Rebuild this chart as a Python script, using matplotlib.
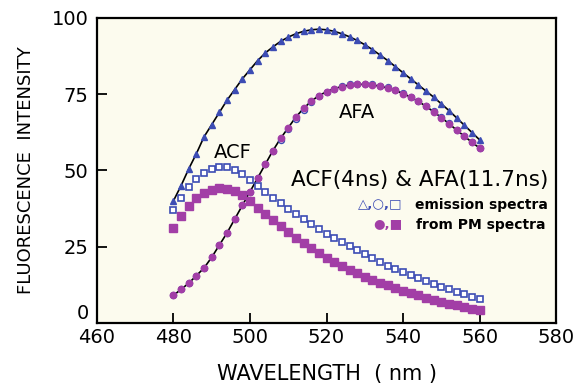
import numpy as np
import matplotlib
matplotlib.use("Agg")
import matplotlib.pyplot as plt

# wavelength grid of the measured points (nm)
wavelength = np.arange(480, 561, 2)

# AFA+ACF total emission (triangles)
total_emission = [
    40.0, 45.0, 50.5, 55.5, 61.0, 65.0, 69.0, 73.0, 76.5, 80.0,
    83.0, 86.0, 88.5, 90.5, 92.3, 93.7, 94.8, 95.6, 96.1, 96.3,
    96.1, 95.6, 94.8, 93.8, 92.6, 91.2, 89.6, 87.8, 86.0, 84.0,
    82.0, 80.0, 78.0, 76.0, 74.0, 71.8, 69.6, 67.2, 64.8, 62.4,
    60.0,
]
# AFA emission (open circles) and from PM spectra (filled circles)
afa_emission = [
    9.0, 11.0, 13.0, 15.5, 18.0, 21.5, 25.5, 29.5, 34.0, 38.5,
    43.0, 47.5, 52.0, 56.5, 60.0, 63.6, 67.0, 69.8, 72.3, 74.3,
    75.7, 76.8, 77.6, 78.2, 78.4, 78.4, 78.2, 77.8, 77.2, 76.4,
    75.4, 74.2, 72.8, 71.2, 69.4, 67.5, 65.5, 63.4, 61.4, 59.4,
    57.5,
]
afa_pm = [
    9.0, 11.0, 13.0, 15.5, 18.0, 21.5, 25.5, 29.5, 34.0, 38.5,
    43.0, 47.5, 52.0, 56.5, 60.5, 64.0, 67.5, 70.3, 72.7, 74.5,
    75.8, 76.8, 77.5, 78.0, 78.2, 78.2, 78.0, 77.6, 77.0, 76.2,
    75.2, 74.0, 72.6, 71.0, 69.2, 67.3, 65.3, 63.2, 61.2, 59.2,
    57.3,
]
# ACF emission (open squares) and from PM spectra (filled squares)
acf_emission = [
    37.0, 41.0, 44.5, 47.3, 49.3, 50.6, 51.2, 51.0, 50.2, 48.8,
    46.8, 44.9, 43.0, 41.1, 39.2, 37.4, 35.6, 33.9, 32.3, 30.7,
    29.2, 27.8, 26.4, 25.1, 23.8, 22.5, 21.2, 19.9, 18.8, 17.7,
    16.7, 15.7, 14.7, 13.7, 12.8, 11.9, 11.0, 10.2, 9.4, 8.6,
    7.8,
]
acf_pm = [
    31.0, 35.0, 38.3, 40.8, 42.6, 43.7, 44.2, 44.0, 43.2, 41.9,
    39.8, 37.8, 35.8, 33.8, 31.8, 29.8, 27.9, 26.1, 24.4, 22.8,
    21.3, 19.9, 18.6, 17.4, 16.2, 15.1, 14.1, 13.2, 12.3, 11.4,
    10.6, 9.8, 9.0, 8.3, 7.6, 6.9, 6.3, 5.7, 5.1, 4.6,
    4.1,
]

x_ticks = [460, 480, 500, 520, 540, 560, 580]
y_ticks = [0, 25, 50, 75, 100]

BLUE = "#3c4cb4"
PURPLE = "#a23ea6"
PAPER = "#fcfbee"

fig = plt.figure(figsize=(5.8, 3.89), dpi=100)
ax = fig.add_axes([0.167, 0.170, 0.792, 0.784])
ax.set_facecolor(PAPER)

# fitted curves through the triangles and circles
ax.plot(wavelength, total_emission, color="black", lw=1.2, zorder=2)
ax.plot(wavelength, afa_pm, color="black", lw=1.2, zorder=2)

ax.plot(wavelength, total_emission, ls="none", marker="^", ms=4.6,
        color=BLUE, mec=BLUE, zorder=3)
ax.plot(wavelength, acf_emission, ls="none", marker="s", ms=4.3,
        mfc="white", mec=BLUE, mew=1.2, zorder=3)
ax.plot(wavelength, acf_pm, ls="none", marker="s", ms=5.2,
        color=PURPLE, mec=PURPLE, zorder=3)
ax.plot(wavelength, afa_emission, ls="none", marker="o", ms=4.3,
        mfc="white", mec=BLUE, mew=1.0, zorder=3)
ax.plot(wavelength, afa_pm, ls="none", marker="o", ms=4.6,
        color=PURPLE, mec=PURPLE, zorder=4)

ax.text(495.5, 56, "ACF", fontsize=14, ha="center", va="center")
ax.text(528, 69, "AFA", fontsize=14, ha="center", va="center")
ax.text(578, 47, "ACF(4ns) & AFA(11.7ns)", fontsize=15.5,
        ha="right", va="center")

# small legend made of coloured glyphs
ax.text(539.8, 38.7, "\u25b3,\u25cb,\u25a1", fontsize=9.5, color=BLUE,
        ha="right", va="center", fontweight="bold")
ax.text(543.0, 38.7, "emission spectra", fontsize=10,
        ha="left", va="center", fontweight="bold")
ax.text(539.8, 32.1, "\u25cf,\u25a0", fontsize=9.5, color=PURPLE,
        ha="right", va="center", fontweight="bold")
ax.text(543.5, 32.1, "from PM spectra", fontsize=10,
        ha="left", va="center", fontweight="bold")

ax.set_xlim(460, 580)
ax.set_ylim(0, 100)
ax.set_xticks(x_ticks)
ax.set_yticks(y_ticks)
ax.tick_params(direction="in", length=7, width=1.3, labelsize=14,
               top=False, right=False, pad=4)
ax.tick_params(axis="y", pad=6)
# the zero sits a little above the corner so it clears the 460
ax.get_yticklabels()[0].set_va("bottom")
for s in ax.spines.values():
    s.set_linewidth(1.6)

ax.set_xlabel("WAVELENGTH  ( nm )", fontsize=15, labelpad=12)
ax.set_ylabel("FLUORESCENCE  INTENSITY", fontsize=13, labelpad=12)

fig.savefig("out.png", dpi=100)
